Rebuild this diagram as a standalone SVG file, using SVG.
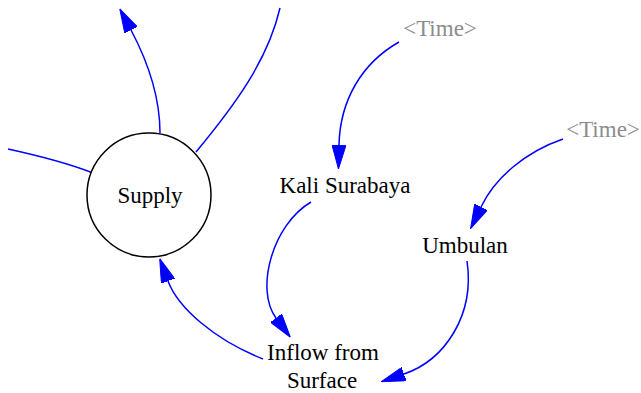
<svg xmlns="http://www.w3.org/2000/svg" width="641" height="393" viewBox="0 0 641 393">
<style>
  .lbl { font-size: 23px; fill: #000; text-anchor: middle; }
  .ghost { fill: #8c8c8c; }
  .edge { fill: none; stroke: #0000ff; stroke-width: 1.5; }
  .node { fill: #fff; stroke: #000; stroke-width: 1.5; }
</style>
<defs>
  <marker id="arr" markerUnits="userSpaceOnUse" markerWidth="24" markerHeight="14" refX="0" refY="7" orient="auto" viewBox="0 0 24 14">
    <path d="M0,0 L24,7 L0,14 z" fill="#0000ff" stroke="#0000ff" stroke-width="1"/>
  </marker>
</defs>
<rect width="641" height="393" fill="#fff"/>
<g id="connectors">
  <path class="edge" d="M160,133 C160,95 148,62 131,30" marker-end="url(#arr)"/>
  <path class="edge" d="M196,152 C235,105 268,60 280,8"/>
  <path class="edge" d="M8,149 C40,156 70,164 93,173"/>
  <path class="edge" d="M399,42 C362,63 340,100 339,145" marker-end="url(#arr)"/>
  <path class="edge" d="M563,139 C525,152 495,178 481,207" marker-end="url(#arr)"/>
  <path class="edge" d="M311,202 C272,225 255,290 276,318" marker-end="url(#arr)"/>
  <path class="edge" d="M467,261 C475,315 445,360 404,374" marker-end="url(#arr)"/>
  <path class="edge" d="M263,359 C215,340 178,308 168,281" marker-end="url(#arr)"/>
</g>
<g font-family="Liberation Serif, DejaVu Serif, serif">
<g id="supply">
  <circle class="node" cx="149" cy="195" r="62"/>
  <text class="lbl" x="150" y="203">Supply</text>
</g>
<g id="time1">
  <text class="lbl ghost" x="440" y="36">&lt;Time&gt;</text>
</g>
<g id="time2">
  <text class="lbl ghost" x="603" y="137">&lt;Time&gt;</text>
</g>
<g id="kali-surabaya">
  <text class="lbl" x="345" y="193">Kali Surabaya</text>
</g>
<g id="umbulan">
  <text class="lbl" x="465" y="253">Umbulan</text>
</g>
<g id="inflow-from-surface">
  <text class="lbl" x="323" y="360">Inflow from</text>
  <text class="lbl" x="322" y="388">Surface</text>
</g>
</g>
</svg>
